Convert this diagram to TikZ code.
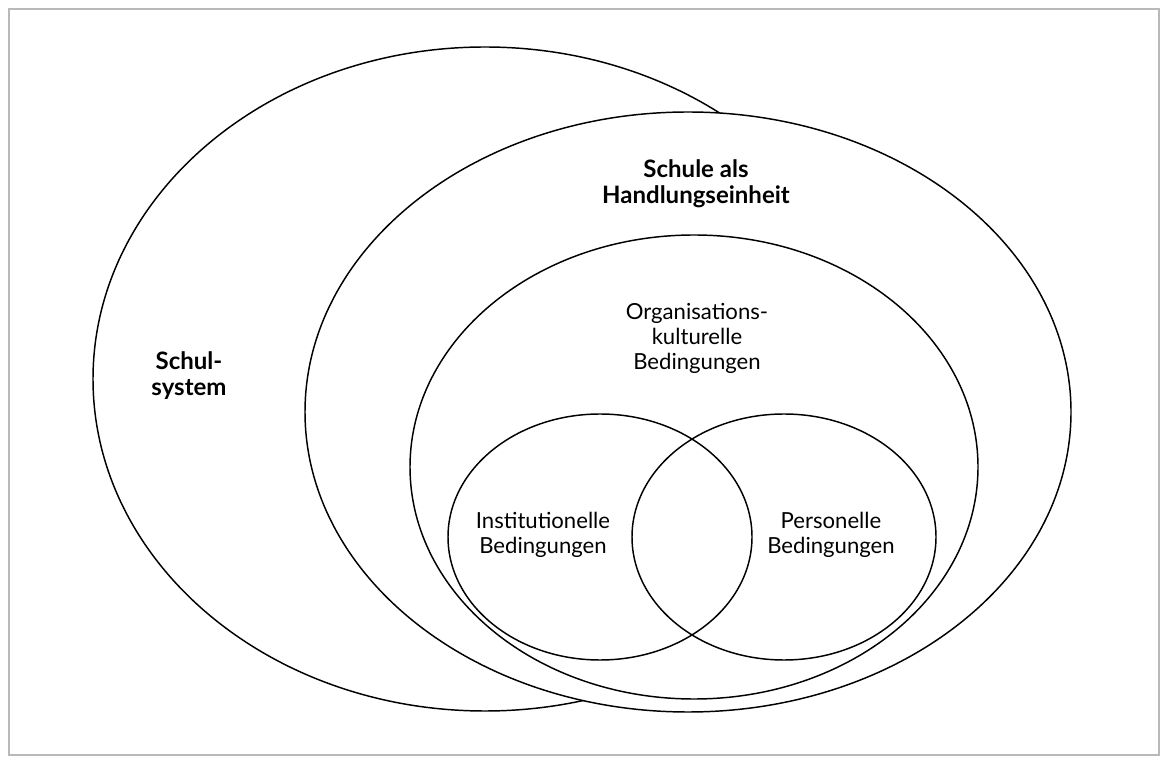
\documentclass[tikz,border=0pt]{standalone}
\usepackage{fontspec}
\setmainfont{Lato}
\usetikzlibrary{positioning}

\begin{document}
\begin{tikzpicture}[x=0.75pt, y=-0.75pt,
	ring/.style={draw=black, line width=1.1pt},
	lbl/.style={align=center, inner sep=0pt, font=\fontsize{16.6}{18.8}\selectfont},
	bold lbl/.style={lbl, font=\fontsize{18}{19.6}\selectfont\bfseries}]
			\useasboundingbox (0,0) rectangle (1164,762);
			\draw[gray!55, line width=1pt] (9,9) rectangle (1159,755);
			
			\draw[ring] (485,379) ellipse [x radius=392, y radius=332];
			\draw[ring, fill=white] (688,412) ellipse [x radius=383, y radius=300];
			\draw[ring] (694,467) ellipse [x radius=284, y radius=232];
			\draw[ring] (600,537) ellipse [x radius=152, y radius=123];
			\draw[ring] (784,537) ellipse [x radius=152, y radius=123];
			
			\node[bold lbl](schulsystem) at (189,376) {Schul-\\system};
			\node[bold lbl](handlung) at (696,184) {Schule als\\Handlungseinheit};
			\node[lbl](orgkultur) at (697,338) {Organisations-\\kulturelle\\Bedingungen};
			\node[lbl](institution) at (543,535) {Institutionelle\\Bedingungen};
			\node[lbl](personal) at (831,535) {Personelle\\Bedingungen};
		\end{tikzpicture}
\end{document}
